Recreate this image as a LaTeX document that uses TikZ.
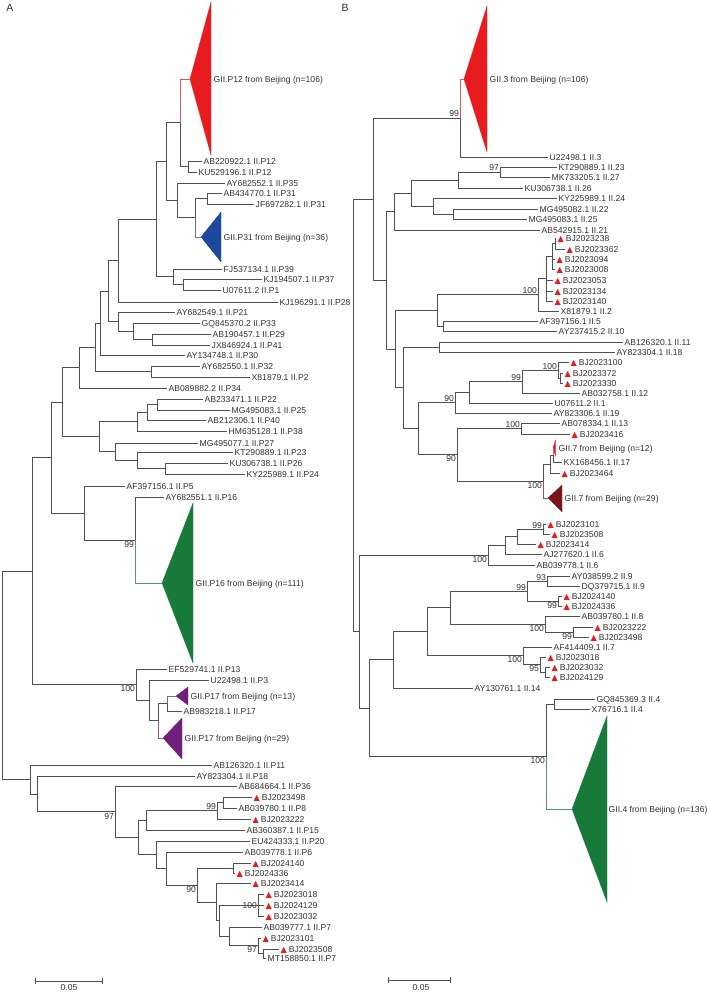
\documentclass[tikz,border=0pt]{standalone}
\usepackage{fontspec}
\setmainfont{Liberation Sans}
\newfontfamily\symf{DejaVu Sans}

\definecolor{treegray}{RGB}{80,80,80}
\definecolor{txtgray}{RGB}{50,50,50}
\definecolor{cladered}{RGB}{232,28,30}
\definecolor{cladeblue}{RGB}{30,72,158}
\definecolor{cladegreen}{RGB}{24,122,58}
\definecolor{cladepurple}{RGB}{112,32,122}
\definecolor{cladedark}{RGB}{122,22,26}

\tikzset{
	br/.style={draw=treegray, line width=0.8pt},
	stem/.style={draw=#1!75, line width=0.8pt},
	clade/.style={fill=#1, draw=#1, line width=0.3pt},
	leaf/.style={anchor=west, inner xsep=1.5pt, inner ysep=0pt, text height=6.2pt, text depth=0pt, text=txtgray, font=\fontsize{8.6}{9}\selectfont},
	boot/.style={inner sep=0.8pt, text height=6.2pt, text depth=0pt, text=txtgray, font=\fontsize{8.6}{9}\selectfont},
	panel/.style={text=txtgray, font=\fontsize{10.5}{12}\selectfont},
}
\newcommand{\bj}[1]{{\color{cladered}\symf\fontsize{8.2}{8}\selectfont ▲}\kern1.8pt#1}

\begin{document}
\begin{tikzpicture}[x=1pt, y=-1pt]
		%%%%% START %%%%%
		\useasboundingbox (0,0) rectangle (706,992);
		
		\node[panel] (panA) at (10,8) {A};
		\node[panel] (panB) at (345,8) {B};
		
		%%%%% panel A: internal nodes %%%%%
		\coordinate (aP12s) at (188,166.5);
		\coordinate (aP12c) at (180,122.75);
		\coordinate (aP31p) at (207,198.5);
		\coordinate (aP31c) at (195,217.75);
		\coordinate (aP35) at (177,200.4);
		\coordinate (aUp) at (166,161.6);
		\coordinate (aP37) at (183,284.5);
		\coordinate (aP39) at (173,276.75);
		\coordinate (aU2) at (156,219.2);
		\coordinate (aU3) at (118,260.6);
		\coordinate (aP29) at (152,339.5);
		\coordinate (aP33) at (133,331.25);
		\coordinate (aP21) at (118,321.6);
		\coordinate (aU4) at (108,291.1);
		\coordinate (aU5) at (100,323);
		\coordinate (aP32) at (151,371.5);
		\coordinate (aU6) at (95,347.3);
		\coordinate (aU7) at (79,367.6);
		\coordinate (aP22) at (157,404.5);
		\coordinate (aP40) at (147,412.25);
		\coordinate (aP38) at (137,421.6);
		\coordinate (aP26) at (165,468.5);
		\coordinate (aP23) at (137,460.25);
		\coordinate (aP27) at (115,451.6);
		\coordinate (aU8) at (99,436.6);
		\coordinate (aU9) at (62,402.1);
		\coordinate (aP16) at (135,540);
		\coordinate (aP5) at (84,513);
		\coordinate (aU10) at (51,457.5);
		\coordinate (aP17s) at (167,703.5);
		\coordinate (aP17b) at (158,720.75);
		\coordinate (aP3) at (149,700.4);
		\coordinate (aP13) at (136,684.7);
		\coordinate (aU11) at (32,571.1);
		\coordinate (aP8) at (223,802.5);
		\coordinate (aP8b) at (217,810.75);
		\coordinate (aP15) at (146,820.4);
		\coordinate (aBJ140) at (233,868);
		\coordinate (aBJ018) at (258,905);
		\coordinate (aBJ508) at (263,953.5);
		\coordinate (aBJ101) at (258,945.75);
		\coordinate (aP7) at (229,936.4);
		\coordinate (aU12) at (219,920.7);
		\coordinate (aU13) at (216,901.9);
		\coordinate (aU14) at (197,885);
		\coordinate (aP6) at (166,868.5);
		\coordinate (aP20) at (156,854.75);
		\coordinate (aU15) at (138,837.6);
		\coordinate (aP36) at (115,811.8);
		\coordinate (aP18) at (37,793.9);
		\coordinate (aP11) at (30,779.5);
		\coordinate (aRoot) at (2,675.3);
		
		%%%%% panel A: leaves %%%%%
		\node[leaf] (la12a) at (202,161) {AB220922.1 II.P12};
		\node[leaf] (la12b) at (197,172) {KU529196.1 II.P12};
		\node[leaf] (la35) at (225,183) {AY682552.1 II.P35};
		\node[leaf] (la31a) at (222,193) {AB434770.1 II.P31};
		\node[leaf] (la31b) at (254,204) {JF697282.1 II.P31};
		\node[leaf] (la39) at (222,269) {FJ537134.1 II.P39};
		\node[leaf] (la37) at (262,279) {KJ194507.1 II.P37};
		\node[leaf] (la1) at (221,290) {U07611.2 II.P1};
		\node[leaf] (la28) at (278,302) {KJ196291.1 II.P28};
		\node[leaf] (la21) at (175,312) {AY682549.1 II.P21};
		\node[leaf] (la33) at (200,323) {GQ845370.2 II.P33};
		\node[leaf] (la29) at (211,334) {AB190457.1 II.P29};
		\node[leaf] (la41) at (210,345) {JX846924.1 II.P41};
		\node[leaf] (la30) at (185,355) {AY134748.1 II.P30};
		\node[leaf] (la32) at (200,366) {AY682550.1 II.P32};
		\node[leaf] (la2) at (250,377) {X81879.1 II.P2};
		\node[leaf] (la34) at (167,388) {AB089882.2 II.P34};
		\node[leaf] (la22) at (203,399) {AB233471.1 II.P22};
		\node[leaf] (la25) at (230,410) {MG495083.1 II.P25};
		\node[leaf] (la40) at (206,420) {AB212306.1 II.P40};
		\node[leaf] (la38) at (227,431) {HM635128.1 II.P38};
		\node[leaf] (la27) at (198,443) {MG495077.1 II.P27};
		\node[leaf] (la23) at (233,452) {KT290889.1 II.P23};
		\node[leaf] (la26) at (228,463) {KU306738.1 II.P26};
		\node[leaf] (la24) at (245,474) {KY225989.1 II.P24};
		\node[leaf] (la5) at (125,486) {AF397156.1 II.P5};
		\node[leaf] (la16) at (164,497) {AY682551.1 II.P16};
		\node[leaf] (la13) at (167,669) {EF529741.1 II.P13};
		\node[leaf] (la3) at (209,680) {U22498.1 II.P3};
		\node[leaf] (la17) at (182,711) {AB983218.1 II.P17};
		\node[leaf] (la11) at (212,765) {AB126320.1 II.P11};
		\node[leaf] (la18) at (195,776) {AY823304.1 II.P18};
		\node[leaf] (la36) at (237,786) {AB684664.1 II.P36};
		\node[leaf] (lab498) at (252,797) {\bj{BJ2023498}};
		\node[leaf] (la8) at (237,808) {AB039780.1 II.P8};
		\node[leaf] (lab222) at (251,819) {\bj{BJ2023222}};
		\node[leaf] (la15) at (245,830) {AB360387.1 II.P15};
		\node[leaf] (la20) at (250,841) {EU424333.1 II.P20};
		\node[leaf] (la6) at (243,852) {AB039778.1 II.P6};
		\node[leaf] (lab140) at (251,863) {\bj{BJ2024140}};
		\node[leaf] (lab336) at (235,873) {\bj{BJ2024336}};
		\node[leaf] (lab414) at (251,883) {\bj{BJ2023414}};
		\node[leaf] (lab018) at (264,894) {\bj{BJ2023018}};
		\node[leaf] (lab129) at (264,905) {\bj{BJ2024129}};
		\node[leaf] (lab032) at (264,916) {\bj{BJ2023032}};
		\node[leaf] (la7a) at (262,927) {AB039777.1 II.P7};
		\node[leaf] (lab101) at (261,938) {\bj{BJ2023101}};
		\node[leaf] (lab508) at (279,949) {\bj{BJ2023508}};
		\node[leaf] (la7b) at (266,958) {MT158850.1 II.P7};
		
		%%%%% panel A: collapsed clades %%%%%
		\coordinate (tA12) at (190,79);
		\coordinate (tA31) at (201,237);
		\coordinate (tA16) at (162,583);
		\coordinate (tA17a) at (176,696);
		\coordinate (tA17b) at (163,738);
		\draw[clade=cladered] (tA12) -- (211,2) -- (211,155) -- cycle;
		\draw[clade=cladeblue] (tA31) -- (221,212) -- (221,262) -- cycle;
		\draw[clade=cladegreen] (tA16) -- (193,503) -- (193,663) -- cycle;
		\draw[clade=cladepurple] (tA17a) -- (188,687) -- (188,705) -- cycle;
		\draw[clade=cladepurple] (tA17b) -- (182,718) -- (182,759) -- cycle;
		\node[leaf] (cA12) at (212,79) {GII.P12 from Beijing (n=106)};
		\node[leaf] (cA31) at (222,237) {GII.P31 from Beijing (n=36)};
		\node[leaf] (cA16) at (194,583) {GII.P16 from Beijing (n=111)};
		\node[leaf] (cA17a) at (189,696) {GII.P17 from Beijing (n=13)};
		\node[leaf] (cA17b) at (183,738) {GII.P17 from Beijing (n=29)};
		
		%%%%% panel A: branches %%%%%
		\foreach \p/\c in {aP12c/aP12s, aUp/aP12c, aUp/aP35, aP35/aP31c, aP31c/aP31p,
			aU2/aUp, aU2/aP39, aP39/aP37, aU3/aU2, aP33/aP29, aP21/aP33, aU4/aU3, aU4/aP21,
			aU5/aU4, aU6/aU5, aU6/aP32, aU7/aU6, aP40/aP22, aP38/aP40, aP23/aP26, aP27/aP23,
			aU8/aP38, aU8/aP27, aU9/aU7, aU9/aU8, aP5/aP16, aU10/aU9, aU10/aP5,
			aP17b/aP17s, aP3/aP17b, aP13/aP3, aU11/aU10, aU11/aP13,
			aP8b/aP8, aP15/aP8b, aBJ101/aBJ508, aP7/aBJ101, aU12/aBJ018, aU12/aP7,
			aU13/aU12, aU14/aBJ140, aU14/aU13, aP6/aU14, aP20/aP6, aU15/aP15, aU15/aP20,
			aP36/aU15, aP18/aP36, aP11/aP18, aRoot/aU11, aRoot/aP11}
			\draw[br] (\p) |- (\c);
		\foreach \p/\c in {aP12s/la12a, aP12s/la12b, aP35/la35, aP31p/la31a, aP31p/la31b,
			aP39/la39, aP37/la37, aP37/la1, aU3/la28, aP21/la21, aP33/la33, aP29/la29, aP29/la41,
			aU5/la30, aP32/la32, aP32/la2, aU7/la34, aP22/la22, aP22/la25, aP40/la40, aP38/la38,
			aP27/la27, aP23/la23, aP26/la26, aP26/la24, aP5/la5, aP16/la16, aP13/la13, aP3/la3,
			aP17s/la17, aP11/la11, aP18/la18, aP36/la36, aP8/lab498, aP8/la8, aP8b/lab222,
			aP15/la15, aP20/la20, aP6/la6, aBJ140/lab140, aBJ140/lab336, aU13/lab414,
			aBJ018/lab018, aBJ018/lab129, aBJ018/lab032, aP7/la7a, aBJ101/lab101,
			aBJ508/lab508, aBJ508/la7b}
			\draw[br] (\p) |- (\c.west);
		\draw[stem=cladered] (aP12c) |- (tA12);
		\draw[stem=cladeblue] (aP31c) |- (tA31);
		\draw[stem=cladegreen] (aP16) |- (tA16);
		\draw[stem=cladepurple] (aP17s) |- (tA17a);
		\draw[stem=cladepurple] (aP17b) |- (tA17b);
		
		%%%%% panel A: bootstrap values %%%%%
		\node[boot, anchor=north east] (bsA1) at (aP16) {99};
		\node[boot, anchor=north east] (bsA2) at (aP13) {100};
		\node[boot, anchor=north east] (bsA3) at (aP36) {97};
		\node[boot, anchor=south east] (bsA4) at (aP8b) {99};
		\node[boot, anchor=north east] (bsA5) at (aU14) {90};
		\node[boot, anchor=east] (bsA6) at (aBJ018) {100};
		\node[boot, anchor=north east] (bsA7) at (aBJ101) {97};
		
		%%%%% panel B: internal nodes %%%%%
		\coordinate (bG3) at (460,118);
		\coordinate (b2327) at (500,172);
		\coordinate (b26) at (458,180);
		\coordinate (b2225) at (453,214);
		\coordinate (b24) at (433,206);
		\coordinate (bA) at (411,193);
		\coordinate (b21) at (394,211.5);
		\coordinate (b3238) at (555,243.5);
		\coordinate (b3094) at (552,256.25);
		\coordinate (b3053) at (546,278.6);
		\coordinate (b2) at (538,294.8);
		\coordinate (b510) at (443,326);
		\coordinate (bB) at (437,310.4);
		\coordinate (b1118) at (439,347);
		\coordinate (b3372) at (560,378);
		\coordinate (b3100) at (558,370);
		\coordinate (b12) at (522,381.5);
		\coordinate (b1) at (469,392.25);
		\coordinate (b19) at (455,402.6);
		\coordinate (b13) at (521,428.5);
		\coordinate (b7a) at (553,455);
		\coordinate (b464) at (550,464);
		\coordinate (b7b) at (543,481);
		\coordinate (bC) at (457,454.75);
		\coordinate (bD) at (418,428.7);
		\coordinate (bE) at (403,387.8);
		\coordinate (bF) at (395,349.1);
		\coordinate (bG) at (386,280.3);
		\coordinate (bH) at (373,199.1);
		\coordinate (b3101) at (543,529);
		\coordinate (b3414) at (517,536.5);
		\coordinate (b6a) at (505,545.25);
		\coordinate (b6b) at (488,555.1);
		\coordinate (b9) at (547,581);
		\coordinate (b2140) at (558,601);
		\coordinate (b9c) at (527,591);
		\coordinate (b222) at (573,632);
		\coordinate (b8) at (545,624);
		\coordinate (b9d) at (450,607.5);
		\coordinate (b032) at (545,672);
		\coordinate (b018) at (540,664.5);
		\coordinate (b7) at (523,655.75);
		\coordinate (bI) at (427,631.6);
		\coordinate (bJ) at (393,659.8);
		\coordinate (b4s) at (554,704);
		\coordinate (b4) at (546,756.5);
		\coordinate (bK) at (369,708.1);
		\coordinate (bL) at (359,631.6);
		\coordinate (bRoot) at (353,415.4);
		
		%%%%% panel B: leaves %%%%%
		\node[leaf] (lbu3) at (548,157) {U22498.1 II.3};
		\node[leaf] (lb23) at (557,167) {KT290889.1 II.23};
		\node[leaf] (lb27) at (550,177) {MK733205.1 II.27};
		\node[leaf] (lb26) at (523,188) {KU306738.1 II.26};
		\node[leaf] (lb24) at (557,198) {KY225989.1 II.24};
		\node[leaf] (lb22) at (538,209) {MG495082.1 II.22};
		\node[leaf] (lb25) at (527,219) {MG495083.1 II.25};
		\node[leaf] (lb21) at (540,230) {AB542915.1 II.21};
		\node[leaf] (lb238) at (556,238) {\bj{BJ2023238}};
		\node[leaf] (lb362) at (565,249) {\bj{BJ2023362}};
		\node[leaf] (lb094) at (555,259) {\bj{BJ2023094}};
		\node[leaf] (lb008) at (555,269) {\bj{BJ2023008}};
		\node[leaf] (lb053) at (553,280) {\bj{BJ2023053}};
		\node[leaf] (lb134) at (553,291) {\bj{BJ2023134}};
		\node[leaf] (lb140) at (553,301) {\bj{BJ2023140}};
		\node[leaf] (lb2) at (559,311) {X81879.1 II.2};
		\node[leaf] (lb5) at (538,321) {AF397156.1 II.5};
		\node[leaf] (lb10) at (557,331) {AY237415.2 II.10};
		\node[leaf] (lb11) at (623,342) {AB126320.1 II.11};
		\node[leaf] (lb18) at (615,352) {AY823304.1 II.18};
		\node[leaf] (lb100) at (569,362) {\bj{BJ2023100}};
		\node[leaf] (lb372) at (563,373) {\bj{BJ2023372}};
		\node[leaf] (lb330) at (563,383) {\bj{BJ2023330}};
		\node[leaf] (lb12) at (580,393) {AB032758.1 II.12};
		\node[leaf] (lb1) at (553,403) {U07611.2 II.1};
		\node[leaf] (lb19) at (552,413) {AY823306.1 II.19};
		\node[leaf] (lb13) at (560,423) {AB078334.1 II.13};
		\node[leaf] (lb416) at (570,434) {\bj{BJ2023416}};
		\node[leaf] (lb17) at (562,462) {KX168456.1 II.17};
		\node[leaf] (lb464) at (560,473) {\bj{BJ2023464}};
		\node[leaf] (lb101) at (546,524) {\bj{BJ2023101}};
		\node[leaf] (lb508) at (550,534) {\bj{BJ2023508}};
		\node[leaf] (lb414) at (536,544) {\bj{BJ2023414}};
		\node[leaf] (lb6a) at (542,554) {AJ277620.1 II.6};
		\node[leaf] (lb6b) at (535,565) {AB039778.1 II.6};
		\node[leaf] (lb9a) at (570,576) {AY038599.2 II.9};
		\node[leaf] (lb9b) at (580,586) {DQ379715.1 II.9};
		\node[leaf] (lb2140) at (562,596) {\bj{BJ2024140}};
		\node[leaf] (lb2336) at (562,606) {\bj{BJ2024336}};
		\node[leaf] (lb8) at (580,616) {AB039780.1 II.8};
		\node[leaf] (lb222) at (593,627) {\bj{BJ2023222}};
		\node[leaf] (lb498) at (589,637) {\bj{BJ2023498}};
		\node[leaf] (lb7) at (552,647) {AF414409.1 II.7};
		\node[leaf] (lb018) at (546,657) {\bj{BJ2023018}};
		\node[leaf] (lb032) at (550,667) {\bj{BJ2023032}};
		\node[leaf] (lb129) at (550,677) {\bj{BJ2024129}};
		\node[leaf] (lb14) at (473,688) {AY130761.1 II.14};
		\node[leaf] (lb4a) at (595,699) {GQ845369.3 II.4};
		\node[leaf] (lb4b) at (590,709) {X76716.1 II.4};
		
		%%%%% panel B: collapsed clades %%%%%
		\coordinate (tB3) at (464,79);
		\coordinate (tB7a) at (553,448);
		\coordinate (tB7b) at (548,498);
		\coordinate (tB4) at (572,809);
		\draw[clade=cladered] (tB3) -- (487,6) -- (487,152) -- cycle;
		\draw[clade=cladered] (tB7a) -- (555.5,440) -- (555.5,456) -- cycle;
		\draw[clade=cladedark] (tB7b) -- (562,485) -- (562,512) -- cycle;
		\draw[clade=cladegreen] (tB4) -- (607,716) -- (607,902) -- cycle;
		\node[leaf] (cB3) at (488,79) {GII.3 from Beijing (n=106)};
		\node[leaf] (cB7a) at (557,448) {GII.7 from Beijing (n=12)};
		\node[leaf] (cB7b) at (563,498) {GII.7 from Beijing (n=29)};
		\node[leaf] (cB4) at (607,809) {GII.4 from Beijing (n=136)};
		
		%%%%% panel B: branches %%%%%
		\foreach \p/\c in {bH/bG3, bH/bG, bG/b21, bG/bF, b21/bA, bA/b26, bA/b24, b26/b2327,
			b24/b2225, bF/bB, bF/bE, bB/b2, bB/b510, b2/b3053, b3053/b3094, b3094/b3238,
			bE/b1118, bE/bD, bD/b19, bD/bC, b19/b1, b1/b12, b12/b3100, b3100/b3372,
			bC/b13, bC/b7b, b7b/b464, b464/b7a, bRoot/bH, bRoot/bL, bL/b6b, bL/bK,
			b6b/b6a, b6a/b3414, b3414/b3101, bK/bJ, bK/b4, bJ/bI, bI/b9d, bI/b7,
			b9d/b9c, b9d/b8, b9c/b9, b9c/b2140, b8/b222, b7/b018, b018/b032, b4/b4s}
			\draw[br] (\p) |- (\c);
		\foreach \p/\c in {bG3/lbu3, b2327/lb23, b2327/lb27, b26/lb26, b24/lb24, b2225/lb22,
			b2225/lb25, b21/lb21, b3238/lb238, b3238/lb362, b3094/lb094, b3094/lb008,
			b3053/lb053, b3053/lb134, b3053/lb140, b2/lb2, b510/lb5, b510/lb10, b1118/lb11,
			b1118/lb18, b3100/lb100, b3372/lb372, b3372/lb330, b12/lb12, b1/lb1, b19/lb19,
			b13/lb13, b13/lb416, b7a/lb17, b464/lb464, b3101/lb101, b3101/lb508, b3414/lb414,
			b6a/lb6a, b6b/lb6b, b9/lb9a, b9/lb9b, b2140/lb2140, b2140/lb2336, b8/lb8,
			b222/lb222, b222/lb498, b7/lb7, b018/lb018, b032/lb032, b032/lb129, bJ/lb14,
			b4s/lb4a, b4s/lb4b}
			\draw[br] (\p) |- (\c.west);
		\draw[stem=cladered] (bG3) |- (tB3);
		\draw[stem=cladered] (b7a) |- (tB7a);
		\draw[stem=cladedark] (b7b) |- (tB7b);
		\draw[stem=cladegreen] (b4) |- (tB4);
		
		%%%%% panel B: bootstrap values %%%%%
		\node[boot, anchor=south east] (bsB1) at (bG3) {99};
		\node[boot, anchor=south east] (bsB2) at (b2327) {97};
		\node[boot, anchor=south east] (bsB3) at (b2) {100};
		\node[boot, anchor=south east] (bsB4) at (b3100) {100};
		\node[boot, anchor=south east] (bsB5) at (b12) {99};
		\node[boot, anchor=south east] (bsB6) at (b19) {90};
		\node[boot, anchor=south east] (bsB7) at (b13) {100};
		\node[boot, anchor=north east] (bsB8) at (bC) {90};
		\node[boot, anchor=north east] (bsB9) at (b7b) {100};
		\node[boot, anchor=south east] (bsB10) at (b3101) {99};
		\node[boot, anchor=north east] (bsB11) at (b6b) {100};
		\node[boot, anchor=south east] (bsB12) at (b9) {93};
		\node[boot, anchor=south east] (bsB13) at (b9c) {99};
		\node[boot, anchor=north east] (bsB14) at (b2140) {99};
		\node[boot, anchor=north east] (bsB15) at (b8) {100};
		\node[boot, anchor=north east] (bsB16) at (b222) {99};
		\node[boot, anchor=north east] (bsB17) at (b7) {100};
		\node[boot, anchor=north east] (bsB18) at (b018) {95};
		\node[boot, anchor=north east] (bsB19) at (b4) {100};
		
		%%%%% scale bars %%%%%
		\coordinate (sA0) at (35,981);
		\coordinate (sA1) at (102,981);
		\draw[br] (sA0) -- (sA1);
		\draw[br] ([yshift=-3pt]sA0) -- ([yshift=3pt]sA0);
		\draw[br] ([yshift=-3pt]sA1) -- ([yshift=3pt]sA1);
		\node[boot] (scA) at (69,987) {0.05};
		\coordinate (sB0) at (388,980);
		\coordinate (sB1) at (450,980);
		\draw[br] (sB0) -- (sB1);
		\draw[br] ([yshift=-3pt]sB0) -- ([yshift=3pt]sB0);
		\draw[br] ([yshift=-3pt]sB1) -- ([yshift=3pt]sB1);
		\node[boot] (scB) at (421,987) {0.05};
		
		%%%%% END %%%%%
	\end{tikzpicture}
\end{document}
